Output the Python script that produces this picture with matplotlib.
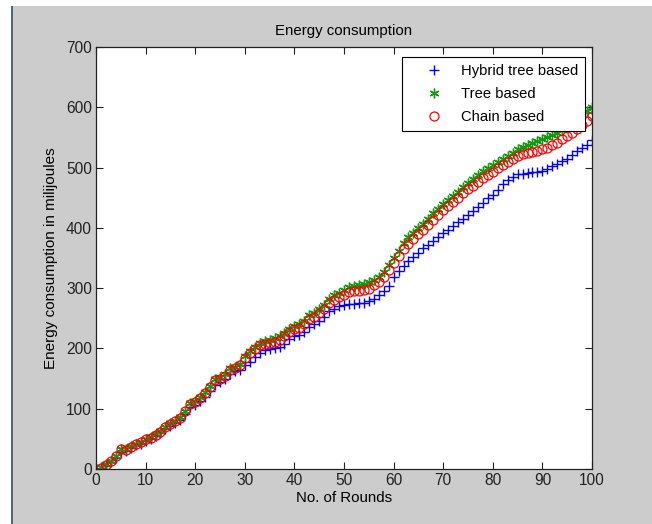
import matplotlib
matplotlib.use("Agg")
import matplotlib.pyplot as plt
from matplotlib.patches import Rectangle
import numpy as np

rounds = list(range(1, 101))

hybrid = [1, 5, 11, 18, 28, 30, 35, 39, 42, 47,
          50, 55, 60, 66, 72, 76, 82, 92, 103, 106,
          113, 120, 130, 140, 144, 150, 158, 162, 165, 172,
          178, 186, 193, 198, 199, 200, 203, 208, 215, 220,
          222, 228, 236, 240, 246, 252, 262, 266, 270, 272,
          273, 274, 275, 276, 278, 282, 288, 295, 304, 318,
          328, 337, 345, 352, 359, 366, 372, 379, 385, 391,
          397, 403, 409, 415, 421, 428, 435, 442, 449, 455,
          463, 472, 479, 485, 489, 490, 491, 492, 493, 495,
          498, 502, 506, 511, 515, 521, 527, 532, 538, 545]

tree = [3, 8, 14, 22, 34, 33, 38, 42, 45, 50,
        53, 58, 63, 70, 76, 80, 86, 97, 110, 113,
        120, 128, 138, 150, 152, 158, 167, 170, 175, 188,
        196, 203, 209, 213, 214, 217, 220, 225, 232, 238,
        240, 246, 255, 258, 265, 272, 282, 288, 292, 297,
        302, 304, 306, 307, 310, 313, 318, 326, 338, 350,
        362, 375, 385, 392, 400, 407, 415, 424, 432, 440,
        447, 453, 460, 467, 474, 481, 488, 494, 500, 505,
        510, 515, 520, 525, 530, 534, 537, 540, 544, 548,
        551, 554, 557, 562, 568, 574, 580, 587, 594, 600]

chain = [2, 7, 13, 21, 33, 32, 37, 41, 44, 49,
         52, 57, 62, 69, 75, 79, 85, 96, 108, 111,
         118, 126, 136, 147, 150, 155, 164, 167, 172, 184,
         192, 199, 205, 208, 209, 211, 214, 220, 227, 232,
         234, 240, 249, 252, 259, 266, 276, 281, 285, 289,
         293, 295, 296, 297, 299, 305, 310, 318, 330, 342,
         353, 365, 373, 381, 390, 397, 405, 413, 421, 429,
         436, 443, 450, 457, 464, 470, 476, 482, 488, 493,
         499, 505, 510, 515, 519, 522, 524, 526, 528, 530,
         533, 537, 541, 547, 552, 558, 564, 571, 578, 586]

labels = ["Hybrid tree based", "Tree based", "Chain based"]
xticks = list(range(0, 101, 10))
yticks = list(range(0, 701, 100))

plt.rcParams['font.family'] = ['Liberation Sans', 'DejaVu Sans']
plt.rcParams['font.size'] = 11

fig = plt.figure(figsize=(6.52, 5.24), dpi=100, facecolor='#cccccc')
W, H = 652, 524
# white strips and edge line of the captured window
fig.patches.append(Rectangle((0, 1 - 6 / H), 1, 6 / H, transform=fig.transFigure,
                             facecolor='white', edgecolor='none', zorder=0))
fig.patches.append(Rectangle((0, 0), 11 / W, 1, transform=fig.transFigure,
                             facecolor='white', edgecolor='none', zorder=0))
fig.patches.append(Rectangle((11 / W, 0), 2 / W, 1 - 6 / H, transform=fig.transFigure,
                             facecolor='#4a6a7a', edgecolor='none', zorder=0))

ax = fig.add_axes([96 / W, 1 - 469 / H, (592 - 96) / W, (469 - 47) / H])
ax.set_facecolor('white')

ax.plot(rounds, hybrid, linestyle='none', marker='+', color='#0000ff',
        markersize=7, markeredgewidth=1.0, label=labels[0])
ax.plot(rounds, tree, linestyle='none', marker=(6, 2, 0), color='#119911',
        markersize=7, markeredgewidth=1.0, label=labels[1])
ax.plot(rounds, chain, linestyle='none', marker='o', markerfacecolor='none',
        markeredgecolor='#ff0000', markersize=6.5, markeredgewidth=0.9,
        label=labels[2])

ax.set_xlim(0, 100)
ax.set_ylim(0, 700)
ax.set_xticks(xticks)
ax.set_yticks(yticks)
ax.tick_params(direction='in', length=5, width=0.8, top=True, right=True,
               colors='#222222', labelsize=11.2, pad=3)
for s in ax.spines.values():
    s.set_color('#222222')
    s.set_linewidth(0.9)

ax.set_title("Energy consumption", fontsize=10.8, pad=9)
ax.set_xlabel("No. of Rounds", fontsize=10.8, labelpad=2)
ax.set_ylabel("Energy consumption in milijoules", fontsize=11, labelpad=6)

leg = ax.legend(loc='upper right', bbox_to_anchor=(0.986, 0.976), fancybox=False,
                edgecolor='black', framealpha=1, fontsize=10.6, borderpad=0.45,
                labelspacing=0.62, handletextpad=0.15, handlelength=3.4,
                borderaxespad=0)
leg.get_frame().set_linewidth(0.8)

fig.savefig("out.png", dpi=100, facecolor=fig.get_facecolor())
